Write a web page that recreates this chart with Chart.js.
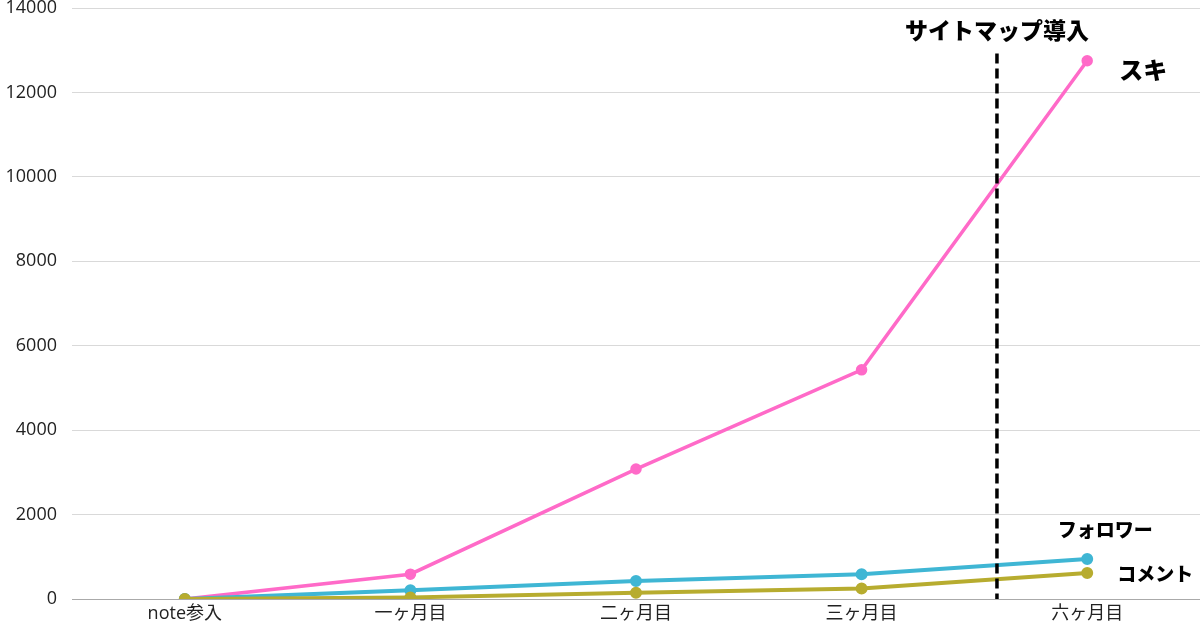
<!DOCTYPE html>
<html lang="ja">
<head>
<meta charset="utf-8">
<script src="https://cdn.jsdelivr.net/npm/chart.js@4/dist/chart.umd.min.js"></script>
<style>
    html, body { margin: 0; padding: 0; background: #fff; }
    #wrap { width: 1200px; height: 628px; }
</style>
</head>
<body>
<div id="wrap"><canvas id="growth-chart"></canvas></div>
<script>
    // 期間
    const months = ['note参入', '一ヶ月目', '二ヶ月目', '三ヶ月目', '六ヶ月目'];
    // 各系列
    const suki = [0, 590, 3080, 5430, 12750];
    const followers = [0, 210, 430, 590, 950];
    const comments = [0, 40, 150, 250, 620];
    const yTicks = [0, 2000, 4000, 6000, 8000, 10000, 12000, 14000];
    // サイトマップ導入の位置（カテゴリ番号）
    const sitemapAt = 3.6;
    const sitemapLabel = 'サイトマップ導入';

    const labelFont = '"Noto Sans CJK JP", sans-serif';

    // 破線とラベル
    const markerPlugin = {
        id: 'marker',
        afterDatasetsDraw(chart) {
            const ctx = chart.ctx;
            const x = chart.scales.x.getPixelForValue(sitemapAt);
            const y = chart.scales.y;
            ctx.save();
            ctx.strokeStyle = '#000';
            ctx.lineWidth = 3.5;
            ctx.setLineDash([10, 5]);
            ctx.beginPath();
            ctx.moveTo(x, y.getPixelForValue(12920));
            ctx.lineTo(x, y.getPixelForValue(0));
            ctx.stroke();
            ctx.setLineDash([]);
            ctx.fillStyle = '#000';
            ctx.textAlign = 'center';
            ctx.textBaseline = 'middle';
            ctx.font = '900 23px ' + labelFont;
            ctx.fillText(sitemapLabel, x, y.getPixelForValue(13480));

            // 系列名
            const offsets = [[56, 9, 24], [18, -29, 19], [68, 1, 19]];
            chart.data.datasets.forEach(function(ds, i) {
                const meta = chart.getDatasetMeta(i);
                const pt = meta.data[meta.data.length - 1];
                ctx.font = '900 ' + offsets[i][2] + 'px ' + labelFont;
                ctx.fillText(ds.label, pt.x + offsets[i][0], pt.y + offsets[i][1]);
            });
            ctx.restore();
        }
    };

    new Chart(document.getElementById('growth-chart'), {
        type: 'line',
        data: {
            labels: months,
            datasets: [{
                label: 'スキ',
                data: suki,
                borderColor: '#ff6ac8',
                backgroundColor: '#ff6ac8',
                borderWidth: 3.5,
                pointRadius: 4,
                order: 2
            }, {
                label: 'フォロワー',
                data: followers,
                borderColor: '#3fb6d4',
                backgroundColor: '#3fb6d4',
                borderWidth: 4,
                pointRadius: 4,
                order: 1
            }, {
                label: 'コメント',
                data: comments,
                borderColor: '#b7ac2f',
                backgroundColor: '#b7ac2f',
                borderWidth: 4,
                pointRadius: 4,
                order: 0
            }]
        },
        options: {
            responsive: true,
            maintainAspectRatio: false,
            animation: false,
            layout: { autoPadding: false, padding: { top: 8, right: 0, bottom: 0, left: 0 } },
            plugins: {
                legend: { display: false },
                tooltip: { enabled: false }
            },
            scales: {
                x: {
                    offset: true,
                    afterFit: function(scale) {
                        scale.paddingLeft = 0;
                        scale.paddingRight = 0;
                    },
                    grid: { display: false, drawTicks: false },
                    border: { display: false },
                    ticks: {
                        color: '#222',
                        padding: 5,
                        font: { family: '"Open Sans", "Noto Sans CJK JP", sans-serif', size: 18, lineHeight: 1.05 }
                    }
                },
                y: {
                    min: 0,
                    max: 14000,
                    afterFit: function(scale) {
                        scale.width = 72;
                        scale.paddingTop = 0;
                        scale.paddingBottom = 0;
                    },
                    afterBuildTicks: function(scale) {
                        scale.ticks = yTicks.map(function(v) { return { value: v }; });
                    },
                    grid: {
                        drawTicks: false,
                        lineWidth: 1,
                        color: function(c) { return c.tick.value === 0 ? '#aaaaaa' : '#d9d9d9'; }
                    },
                    border: { display: false },
                    ticks: {
                        color: '#222',
                        padding: 15,
                        font: { family: '"Open Sans", sans-serif', size: 18 },
                        callback: function(v) { return String(v); }
                    }
                }
            }
        },
        plugins: [markerPlugin]
    });
</script>
</body>
</html>
